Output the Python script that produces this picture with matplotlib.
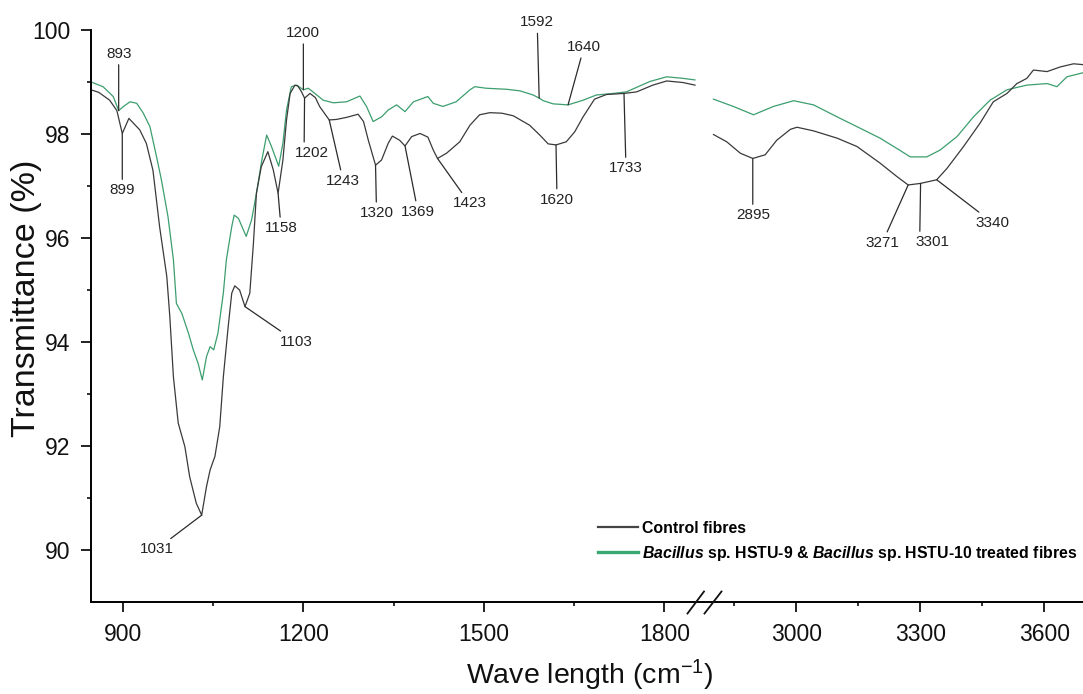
import numpy as np
import matplotlib
matplotlib.use("Agg")
import matplotlib.pyplot as plt
from matplotlib.lines import Line2D

# ---------------- data (wavenumber in cm-1, transmittance in %) ----------------
# Control fibres, 850-1850 cm-1 window
ctrl_lo_wn = [847, 860, 878, 890, 899, 910, 928, 939, 950, 961, 973, 978, 984, 992,
              1003, 1011, 1022, 1031, 1039, 1045, 1053, 1061, 1067, 1075, 1081, 1086,
              1094, 1103, 1111, 1117, 1122, 1130, 1141, 1150, 1158, 1166, 1172, 1178,
              1186, 1191, 1197, 1202, 1211, 1220, 1227, 1243, 1255, 1272, 1291, 1300,
              1308, 1316, 1320, 1330, 1341, 1348, 1360, 1369, 1380, 1394, 1407, 1416,
              1423, 1438, 1460, 1477, 1493, 1510, 1530, 1549, 1576, 1593, 1607, 1620,
              1637, 1651, 1665, 1684, 1704, 1733, 1754, 1781, 1804, 1831, 1851]
ctrl_lo_t = [98.85, 98.80, 98.65, 98.45, 98.01, 98.30, 98.08, 97.82, 97.30, 96.22, 95.26,
             94.49, 93.33, 92.44, 91.99, 91.41, 90.90, 90.67, 91.22, 91.54, 91.80, 92.37,
             93.33, 94.29, 94.94, 95.08, 95.00, 94.68, 94.94, 95.90, 96.86, 97.37, 97.66,
             97.31, 96.86, 97.50, 98.27, 98.78, 98.94, 98.92, 98.81, 98.69, 98.78, 98.70,
             98.53, 98.27, 98.28, 98.32, 98.38, 98.24, 97.88, 97.56, 97.40, 97.50, 97.82,
             97.96, 97.88, 97.77, 97.95, 98.01, 97.94, 97.69, 97.53, 97.63, 97.85, 98.17,
             98.37, 98.41, 98.40, 98.35, 98.17, 97.98, 97.81, 97.79, 97.85, 98.04, 98.33,
             98.67, 98.76, 98.78, 98.81, 98.94, 99.02, 98.99, 98.94]

# Treated fibres, 850-1850 cm-1 window
trt_lo_wn = [847, 867, 884, 893, 901, 912, 923, 934, 945, 956, 964, 975, 984, 989, 998,
             1009, 1017, 1025, 1032, 1039, 1045, 1051, 1058, 1067, 1072, 1081, 1085,
             1092, 1105, 1114, 1122, 1131, 1139, 1147, 1159, 1166, 1172, 1180, 1189,
             1200, 1208, 1216, 1233, 1250, 1272, 1294, 1305, 1316, 1330, 1341, 1355,
             1369, 1383, 1407, 1416, 1432, 1454, 1477, 1485, 1504, 1538, 1560, 1582,
             1592, 1599, 1615, 1640, 1665, 1687, 1715, 1737, 1776, 1804, 1831, 1851]
trt_lo_t = [99.00, 98.91, 98.72, 98.45, 98.53, 98.62, 98.59, 98.40, 98.14, 97.56, 97.12,
            96.41, 95.58, 94.74, 94.55, 94.17, 93.85, 93.59, 93.27, 93.72, 93.91, 93.85,
            94.17, 94.94, 95.58, 96.22, 96.44, 96.38, 96.03, 96.35, 96.86, 97.50, 97.98,
            97.76, 97.38, 97.82, 98.46, 98.91, 98.94, 98.85, 98.88, 98.81, 98.65, 98.60,
            98.62, 98.73, 98.53, 98.24, 98.33, 98.46, 98.56, 98.43, 98.62, 98.72, 98.59,
            98.53, 98.62, 98.85, 98.91, 98.88, 98.86, 98.83, 98.75, 98.69, 98.64, 98.58,
            98.56, 98.65, 98.75, 98.78, 98.81, 99.01, 99.10, 99.07, 99.04]

# 2800-3700 cm-1 window
ctrl_hi_wn = [2800, 2832, 2865, 2895, 2925, 2953, 2986, 3002, 3042, 3099, 3147, 3203,
              3244, 3271, 3301, 3340, 3365, 3405, 3445, 3477, 3510, 3534, 3558, 3574,
              3607, 3639, 3671, 3700]
ctrl_hi_t = [97.99, 97.85, 97.63, 97.53, 97.60, 97.88, 98.09, 98.13, 98.06, 97.92, 97.76,
             97.44, 97.18, 97.02, 97.05, 97.12, 97.34, 97.76, 98.21, 98.62, 98.78, 98.97,
             99.07, 99.23, 99.20, 99.29, 99.35, 99.33]
trt_hi_wn = [2800, 2848, 2897, 2945, 2994, 3042, 3099, 3155, 3203, 3244, 3276, 3316,
             3348, 3389, 3429, 3469, 3510, 3558, 3607, 3631, 3655, 3700]
trt_hi_t = [98.67, 98.53, 98.37, 98.53, 98.64, 98.56, 98.33, 98.11, 97.92, 97.72, 97.56,
            97.56, 97.69, 97.95, 98.33, 98.65, 98.85, 98.94, 98.97, 98.91, 99.10, 99.19]

# Band labels: wavenumber and the spectrum they point at
peak_wn = [893, 899, 1031, 1103, 1158, 1200, 1202, 1243, 1320, 1369, 1423,
           1592, 1620, 1640, 1733, 2895, 3271, 3301, 3340]
peak_series = ["trt", "ctrl", "ctrl", "ctrl", "ctrl", "trt", "ctrl", "ctrl", "ctrl", "ctrl",
               "ctrl", "trt", "ctrl", "trt", "ctrl", "ctrl", "ctrl", "ctrl", "ctrl"]

legend_labels = ["Control fibres",
                 r"$\mathit{Bacillus}$ sp. HSTU-9 & $\mathit{Bacillus}$ sp. HSTU-10 treated fibres"]

# ---------------- styling ----------------
plt.rcParams["font.family"] = ["Liberation Sans", "DejaVu Sans"]
plt.rcParams["mathtext.fontset"] = "custom"
plt.rcParams["mathtext.rm"] = "Liberation Sans"
plt.rcParams["mathtext.it"] = "Liberation Sans:italic:bold"
plt.rcParams["mathtext.bf"] = "Liberation Sans:bold"

GRAY = "#3a3a3a"
GREEN = "#3c9e6e"
W, H = 1083, 694

fig = plt.figure(figsize=(W / 100, H / 100), dpi=100)


def box(x0, x1, ytop, ybot):
    return [x0 / W, 1 - ybot / H, (x1 - x0) / W, (ybot - ytop) / H]


ax_lo = fig.add_axes(box(91, 704, 30, 602))
ax_hi = fig.add_axes(box(704, 1085.5, 30, 602))

ax_lo.plot(trt_lo_wn, trt_lo_t, color=GREEN, lw=0.9)
ax_lo.plot(ctrl_lo_wn, ctrl_lo_t, color=GRAY, lw=0.9)
ax_hi.plot(trt_hi_wn, trt_hi_t, color=GREEN, lw=0.9)
ax_hi.plot(ctrl_hi_wn, ctrl_hi_t, color=GRAY, lw=0.9)

ax_lo.set_xlim(847, 1866)
ax_hi.set_xlim(2777, 3700)
for ax in (ax_lo, ax_hi):
    ax.set_ylim(89, 100)
    ax.spines["top"].set_visible(False)
    ax.spines["right"].set_visible(False)
    ax.spines["bottom"].set_linewidth(1.4)
    ax.spines["left"].set_linewidth(1.4)
    ax.tick_params(which="major", direction="out", length=7.5, width=1.3,
                   labelsize=16.5, pad=7.5, colors="#111111")
    ax.tick_params(which="minor", direction="out", length=3.2, width=1.2, colors="#111111")
    ax.patch.set_visible(False)

ax_lo.set_xticks([900, 1200, 1500, 1800])
ax_lo.set_xticks([1050, 1350, 1650], minor=True)
ax_hi.set_xticks([3000, 3300, 3600])
ax_hi.set_xticks([2850, 3150, 3450], minor=True)
ax_lo.set_yticks([90, 92, 94, 96, 98, 100])
ax_lo.set_yticks([91, 93, 95, 97, 99], minor=True)
ax_hi.spines["left"].set_visible(False)
ax_hi.tick_params(axis="y", which="both", left=False, labelleft=False)

# axis-break marks
for x0, x1 in [(687.5, 704.0), (704.5, 721.5)]:
    fig.add_artist(Line2D([x0 / W, x1 / W], [1 - 613.5 / H, 1 - 591.5 / H],
                          transform=fig.transFigure, color="#111111", lw=1.3))

# band annotations (label offsets in pixels, line attachment on label)
offsets = {893: (0, 57), 899: (0, -57), 1031: (-45, -34), 1103: (51, -35),
           1158: (3, -35), 1200: (0, 57), 1202: (7, -55), 1243: (14, -61),
           1320: (1, -48), 1369: (13, -66), 1423: (32, -45), 1592: (-2, 76),
           1620: (1, -55), 1640: (16, 58), 1733: (2, -75), 2895: (0, -57),
           3271: (-26, -58), 3301: (12, -59), 3340: (56, -43)}
relpos = {1202: (0.28, 0.5), 3301: (0.12, 0.5)}
curves = {("ctrl", "lo"): (ctrl_lo_wn, ctrl_lo_t), ("trt", "lo"): (trt_lo_wn, trt_lo_t),
          ("ctrl", "hi"): (ctrl_hi_wn, ctrl_hi_t), ("trt", "hi"): (trt_hi_wn, trt_hi_t)}
for wn, ser in zip(peak_wn, peak_series):
    part = "lo" if wn < 2000 else "hi"
    ax = ax_lo if part == "lo" else ax_hi
    xs, ys = curves[(ser, part)]
    yv = float(np.interp(wn, xs, ys))
    ap = dict(arrowstyle="-", color="#2b2b2b", lw=0.9, shrinkA=1, shrinkB=0)
    if wn in relpos:
        ap["relpos"] = relpos[wn]
    ax.annotate(str(wn), xy=(wn, yv), xytext=offsets[wn], textcoords="offset pixels",
                ha="center", va="center", fontsize=11, color="#222222",
                arrowprops=ap, annotation_clip=False)

# axis titles
fig.text(27 / W, 1 - 298 / H, "Transmittance (%)", rotation=90, ha="center", va="center",
         fontsize=24.5, color="#111111")
fig.text(590 / W, 1 - 684 / H, "Wave length (cm$^{-1}$)", ha="center", va="baseline",
         fontsize=20.5, color="#111111")

# legend
handles = [Line2D([], [], color="#444444", lw=1.6), Line2D([], [], color="#3aa872", lw=2.4)]
fig.legend(handles, legend_labels, loc="upper left", bbox_to_anchor=(598 / W, 1 - 521 / H),
           frameon=False, borderpad=0, borderaxespad=0, handlelength=2.5,
           handletextpad=0.26, labelspacing=0.5, prop=dict(weight="bold", size=11.4))

fig.savefig("out.png", dpi=100)
